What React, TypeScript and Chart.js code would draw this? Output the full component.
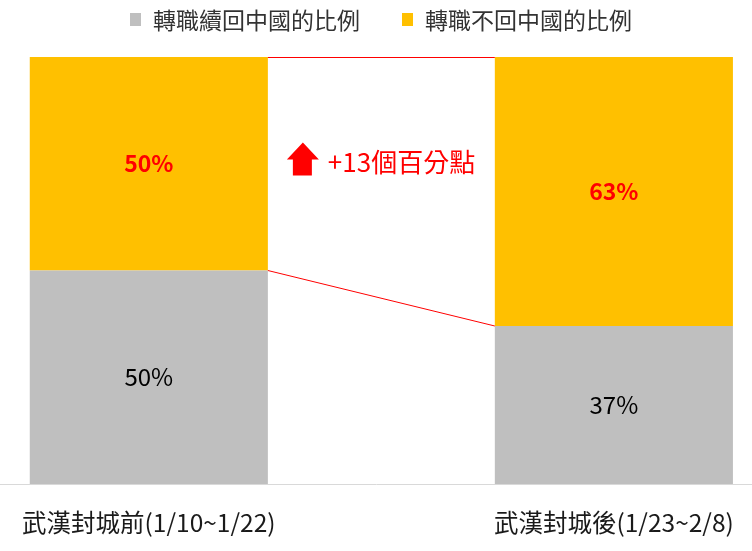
import React, { useEffect, useRef } from 'react';
import { Chart, registerables } from 'chart.js';

Chart.register(...registerables);

const categories = ['武漢封城前(1/10~1/22)', '武漢封城後(1/23~2/8)'];
const returnShare = [50, 37];
const stayShare = [50, 63];
const seriesNames = ['轉職續回中國的比例', '轉職不回中國的比例'];
const changeNote = '+13個百分點';

const FONT = "'Noto Sans CJK TC', 'Noto Sans', sans-serif";
const GREY = '#bfbfbf';
const GOLD = '#ffc000';
const RED = '#ff0000';

// legend, value labels, series lines between the bars and the "+13" note
const overlayPlugin = {
    id: 'overlay',
    afterDatasetsDraw(chart: Chart) {
        const ctx = chart.ctx;
        const y = chart.scales.y;
        const low = chart.getDatasetMeta(0).data as any[];
        const high = chart.getDatasetMeta(1).data as any[];

        ctx.save();
        ctx.strokeStyle = RED;
        ctx.lineWidth = 1;
        for (let i = 0; i < low.length - 1; i++) {
            const a = low[i].getProps(['x', 'y', 'width'], true);
            const b = low[i + 1].getProps(['x', 'y', 'width'], true);
            const ta = high[i].getProps(['y'], true);
            const tb = high[i + 1].getProps(['y'], true);
            ctx.beginPath();
            ctx.moveTo(a.x + a.width / 2, a.y);
            ctx.lineTo(b.x - b.width / 2, b.y);
            ctx.moveTo(a.x + a.width / 2, ta.y + 0.5);
            ctx.lineTo(b.x - b.width / 2, tb.y + 0.5);
            ctx.stroke();
        }

        ctx.textAlign = 'center';
        ctx.textBaseline = 'middle';
        low.forEach((bar, i) => {
            const p = bar.getCenterPoint();
            ctx.fillStyle = '#000';
            ctx.font = `24px ${FONT}`;
            ctx.fillText(`${returnShare[i]}%`, p.x, p.y);
        });
        high.forEach((bar, i) => {
            const p = bar.getCenterPoint();
            ctx.fillStyle = RED;
            ctx.font = `bold 23px ${FONT}`;
            ctx.fillText(`${stayShare[i]}%`, p.x, p.y);
        });

        // arrow + note in the gap between first and second bar
        const first = low[0].getProps(['x', 'width'], true);
        const ax = first.x + first.width / 2 + 19;
        const cy = y.getPixelForValue(76);
        ctx.fillStyle = RED;
        ctx.beginPath();
        ctx.moveTo(ax + 16, cy - 17);
        ctx.lineTo(ax + 32, cy);
        ctx.lineTo(ax + 25, cy);
        ctx.lineTo(ax + 25, cy + 16);
        ctx.lineTo(ax + 6, cy + 16);
        ctx.lineTo(ax + 6, cy);
        ctx.lineTo(ax, cy);
        ctx.closePath();
        ctx.fill();
        ctx.textAlign = 'left';
        ctx.font = `26px ${FONT}`;
        ctx.fillText(changeNote, ax + 41, cy + 3);

        // legend along the top
        ctx.font = `23px ${FONT}`;
        ctx.textBaseline = 'middle';
        let lx = 130;
        chart.data.datasets.forEach((ds) => {
            ctx.fillStyle = ds.backgroundColor as string;
            ctx.fillRect(lx, 13, 11, 13);
            ctx.fillStyle = '#333';
            ctx.fillText(ds.label as string, lx + 23, 20);
            lx += 23 + ctx.measureText(ds.label as string).width + 42;
        });
        ctx.restore();
    },
};

const App: React.FC = () => {
    const chartRef = useRef<HTMLCanvasElement>(null);

    useEffect(() => {
        document.body.style.margin = '0';
        if (!chartRef.current) return;
        const ctx = chartRef.current.getContext('2d');
        if (!ctx) return;

        Chart.defaults.font.family = FONT;

        const chart = new Chart(ctx, {
            type: 'bar',
            data: {
                datasets: [
                    {
                        label: seriesNames[0],
                        data: returnShare.map((v, i) => ({ x: i, y: v })),
                        backgroundColor: GREY,
                    },
                    {
                        label: seriesNames[1],
                        data: stayShare.map((v, i) => ({ x: i, y: v })),
                        backgroundColor: GOLD,
                    },
                ],
            },
            options: {
                responsive: true,
                maintainAspectRatio: false,
                animation: false,
                layout: { padding: { top: 57, bottom: 14, left: 0, right: 0 } },
                datasets: {
                    bar: { categoryPercentage: 1, barPercentage: 0.512 },
                },
                scales: {
                    x: {
                        type: 'linear',
                        stacked: true,
                        offset: false,
                        min: -0.32,
                        max: 1.297,
                        afterBuildTicks: (scale) => {
                            scale.ticks = categories.map((_, i) => ({ value: i }));
                        },
                        afterFit: (scale: any) => {
                            scale.height = 53;
                            scale.paddingLeft = 0;
                            scale.paddingRight = 0;
                        },
                        grid: { display: false, drawTicks: false },
                        border: { color: '#d9d9d9', width: 1 },
                        ticks: {
                            autoSkip: false,
                            maxRotation: 0,
                            padding: 24,
                            color: '#1a1a1a',
                            font: { size: 24.5 },
                            callback: (value) => categories[value as number] ?? '',
                        },
                    },
                    y: {
                        stacked: true,
                        min: 0,
                        max: 100,
                        display: false,
                    },
                },
                plugins: {
                    legend: { display: false },
                    tooltip: { enabled: false },
                },
            },
            plugins: [overlayPlugin],
        });

        return () => {
            chart.destroy();
        };
    }, []);

    return (
        <div style={{ width: 752, height: 551, position: 'relative' }}>
            <canvas ref={chartRef}></canvas>
        </div>
    );
};

export default App;
